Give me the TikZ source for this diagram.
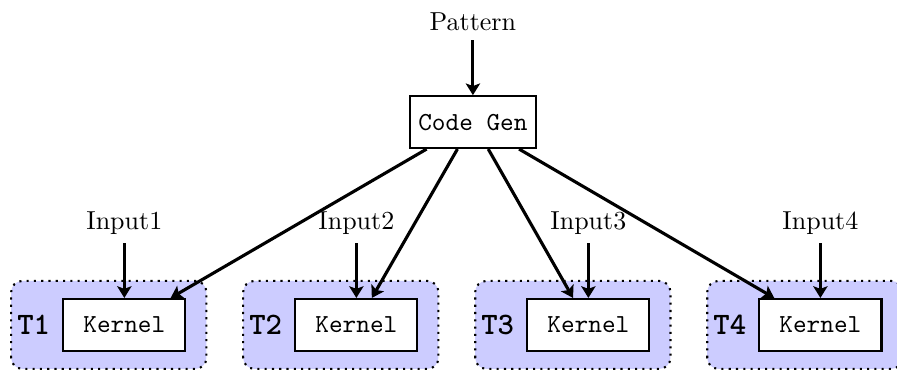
\documentclass[tikz,border=0pt]{standalone}
\usetikzlibrary{positioning,arrows.meta,calc,backgrounds}
\begin{document}
\begin{tikzpicture}[
    >={Stealth[length=4.5pt,width=5.5pt,inset=1pt]},
    box/.style={draw,thick,fill=white,minimum width=1.65cm,minimum height=0.7cm,font=\ttfamily},
    tbox/.style={draw,thick,dotted,fill=blue!20,rounded corners=0.15cm},
    flow/.style={->,very thick}]
\useasboundingbox (0,0) rectangle (12.12,4.99);
% Generator
\node (pattern) at (6.39,4.69) {Pattern};
\node[box] (codegen) at (6.39,3.34) {Code Gen};
\draw[flow] (pattern) -- (codegen);

% Threads
\foreach \i in {1,...,4}
{
    \node[box] (kernel\i) at ({1.68+(\i-1)*3.135},0.6) {Kernel};
    \node[left=0.04cm of kernel\i,font=\large\ttfamily\bfseries] (t\i) {T\i};
    \node (input\i) at ({1.68+(\i-1)*3.135},1.98) {Input\i};
    \begin{scope}[on background layer]
        \draw[tbox] ($(kernel\i.south west)+(-0.69,-0.23)$) rectangle ($(kernel\i.north east)+(0.27,0.23)$);
    \end{scope}
    \draw[flow] (input\i) -- (kernel\i);
    \draw[flow] (codegen) -- (kernel\i);
}
\end{tikzpicture}
\end{document}
